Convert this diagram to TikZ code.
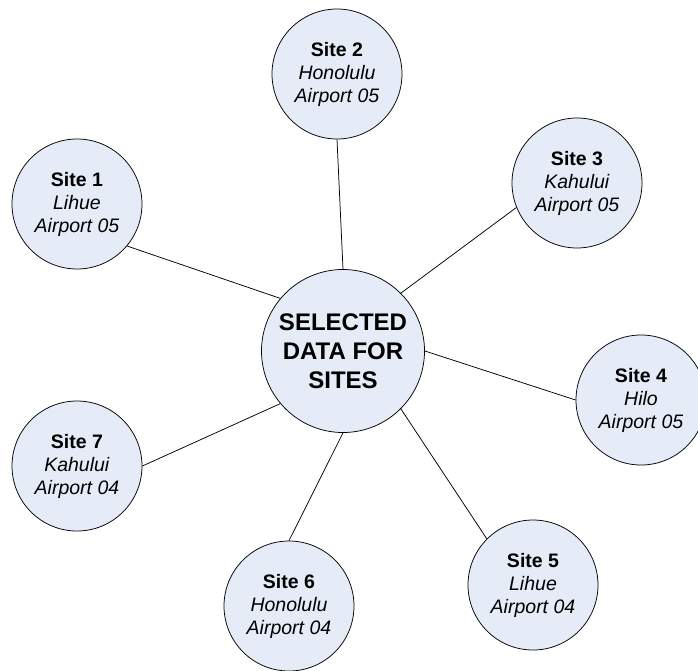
\documentclass[tikz,border=0pt]{standalone}
\usepackage{fontspec}
\setmainfont{Liberation Sans}
\usepackage{xcolor}
\usepackage{tikz}
\definecolor{sitefill}{RGB}{230,236,247}

\begin{document}
\begin{tikzpicture}[x=1pt,y=-1pt,
    site/.style={circle,draw=black,line width=0.75pt,fill=sitefill,
                 minimum size=130pt,inner sep=0pt,align=center,
                 font=\fontsize{19.5}{23}\selectfont},
    hub/.style={site,minimum size=163pt,
                font=\fontsize{24}{29}\selectfont\bfseries},
    spoke/.style={line width=0.75pt}]
  \useasboundingbox (0,0) rectangle (698,670);

  \node[hub] (hub) at (343,351) {SELECTED\\DATA FOR\\SITES};

  % the seven airport sites round the hub (hub angle / site angle)
  \foreach \n/\x/\y/\city/\port/\ha/\sa in {1/77/204/Lihue/05/140/320,
      2/337/74/Honolulu/05/90/270,3/577/183/Kahului/05/45/202,
      4/641/400/Hilo/05/0/180,5/533/585/Lihue/04/-45/135,
      6/289/606/Honolulu/04/-90/90,7/77/466/Kahului/04/220/0}
  {
    \node[site] (site\n) at (\x,\y)
         {\textbf{Site \n}\\\textit{\city}\\\textit{Airport \port}};
    \draw[spoke] (hub.\ha) -- (site\n.\sa);
  }
\end{tikzpicture}
\end{document}
